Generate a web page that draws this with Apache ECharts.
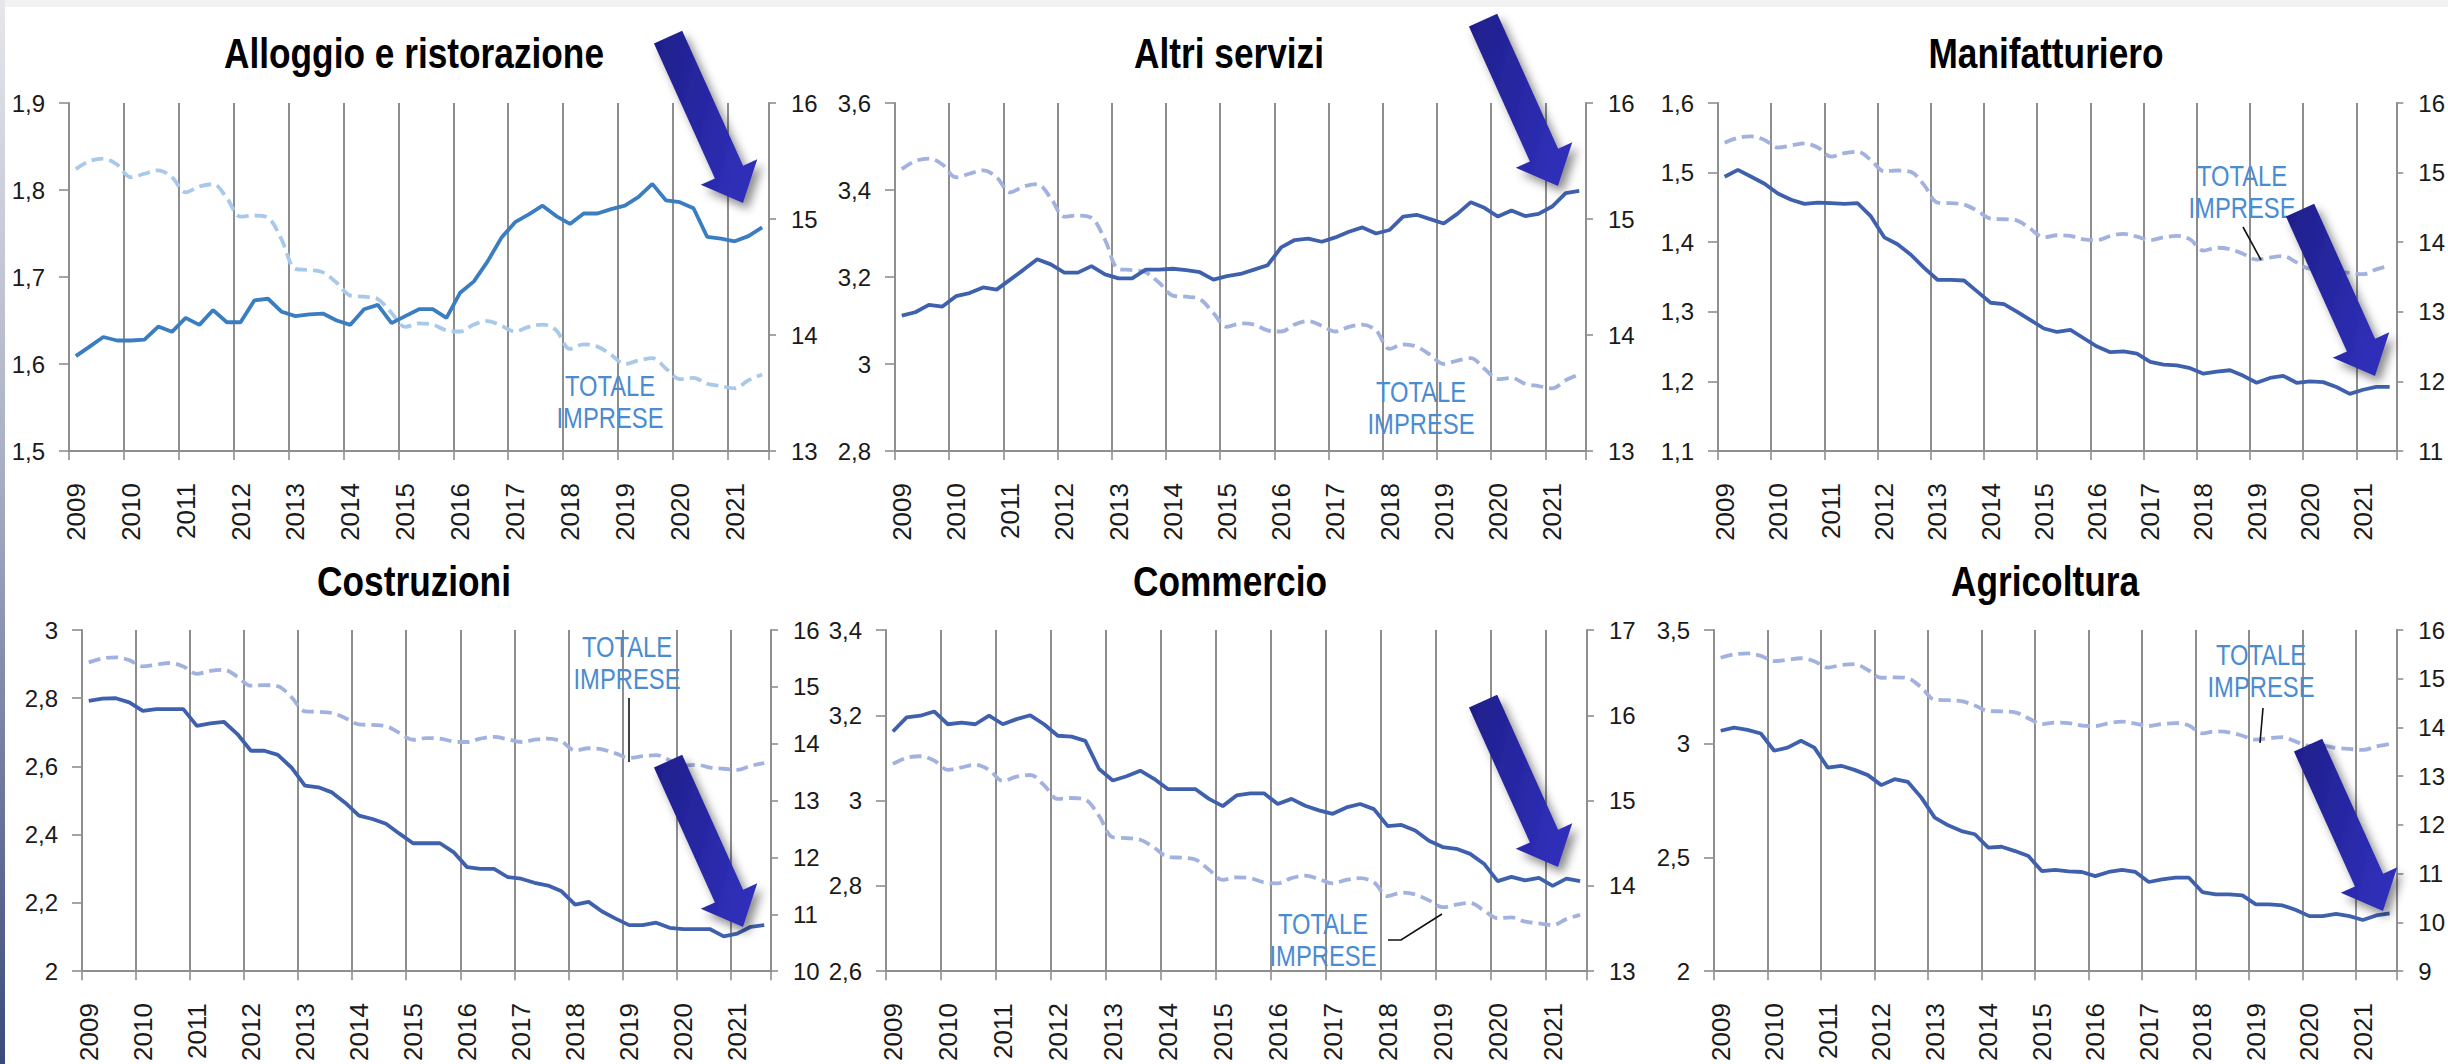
<!DOCTYPE html>
<html>
<head>
<meta charset="utf-8">
<title>Numero di imprese per settore, 2009-2021</title>
<script src="https://cdn.jsdelivr.net/npm/echarts@6/dist/echarts.min.js"></script>
<style>
  html, body { margin: 0; padding: 0; background: #ffffff; }
  #chart { width: 2448px; height: 1064px; }
</style>
</head>
<body>
<div id="chart"></div>
<script>
// ---- Data -----------------------------------------------------------------
// Quarterly series, 2009 T1 – 2021 T3 (51 quarters).
const years = ['2009', '2010', '2011', '2012', '2013', '2014', '2015',
               '2016', '2017', '2018', '2019', '2020', '2021'];
const quarterNames = ['T1', 'T2', 'T3', 'T4'];
const quarterCount = 51;

// Totale imprese (right axis in every panel)
const totaleImprese = [15.43, 15.50, 15.52, 15.47, 15.36, 15.39, 15.42, 15.36, 15.23, 15.28,
  15.30, 15.18, 15.02, 15.03, 15.01, 14.82, 14.57, 14.56, 14.54, 14.45,
  14.34, 14.33, 14.31, 14.19, 14.07, 14.10, 14.09, 14.04, 14.03, 14.09,
  14.12, 14.08, 14.03, 14.07, 14.09, 14.04, 13.88, 13.92, 13.90, 13.83,
  13.75, 13.78, 13.80, 13.71, 13.62, 13.63, 13.58, 13.56, 13.54, 13.61, 13.66];

const alloggioRistorazione = [1.609, 1.620, 1.631, 1.627, 1.627, 1.628, 1.643, 1.637, 1.653, 1.645,
  1.662, 1.648, 1.648, 1.673, 1.675, 1.660, 1.655, 1.657, 1.658, 1.650,
  1.645, 1.663, 1.668, 1.647, 1.655, 1.663, 1.663, 1.653, 1.682, 1.695,
  1.718, 1.745, 1.763, 1.772, 1.782, 1.770, 1.761, 1.773, 1.773, 1.778,
  1.782, 1.792, 1.807, 1.788, 1.786, 1.779, 1.746, 1.744, 1.741, 1.747, 1.757];

const altriServizi = [3.111, 3.119, 3.136, 3.132, 3.156, 3.163, 3.176, 3.171, 3.194, 3.217,
  3.241, 3.229, 3.210, 3.210, 3.225, 3.206, 3.197, 3.197, 3.217, 3.217,
  3.219, 3.216, 3.211, 3.194, 3.202, 3.207, 3.217, 3.227, 3.268, 3.285,
  3.288, 3.281, 3.291, 3.304, 3.314, 3.300, 3.308, 3.339, 3.343, 3.333,
  3.323, 3.345, 3.372, 3.359, 3.339, 3.353, 3.340, 3.345, 3.362, 3.393, 3.398];

const manifatturiero = [1.494, 1.504, 1.494, 1.484, 1.470, 1.461, 1.455, 1.457, 1.456, 1.455,
  1.456, 1.437, 1.407, 1.397, 1.382, 1.363, 1.346, 1.346, 1.345, 1.329,
  1.313, 1.311, 1.300, 1.288, 1.276, 1.271, 1.274, 1.262, 1.250, 1.242,
  1.243, 1.240, 1.228, 1.224, 1.223, 1.219, 1.211, 1.214, 1.216, 1.208,
  1.198, 1.205, 1.208, 1.198, 1.200, 1.199, 1.192, 1.182, 1.188, 1.192, 1.192];

const costruzioni = [2.792, 2.799, 2.800, 2.788, 2.763, 2.768, 2.768, 2.768, 2.719, 2.726,
  2.731, 2.695, 2.646, 2.646, 2.634, 2.597, 2.544, 2.539, 2.524, 2.493,
  2.456, 2.446, 2.432, 2.403, 2.375, 2.375, 2.375, 2.349, 2.305, 2.300,
  2.300, 2.276, 2.271, 2.259, 2.251, 2.234, 2.195, 2.203, 2.175, 2.154,
  2.135, 2.135, 2.142, 2.127, 2.123, 2.123, 2.123, 2.102, 2.110, 2.130, 2.135];

const commercio = [3.162, 3.195, 3.199, 3.209, 3.179, 3.183, 3.179, 3.199, 3.179, 3.191,
  3.200, 3.179, 3.152, 3.150, 3.140, 3.074, 3.047, 3.057, 3.070, 3.051,
  3.027, 3.027, 3.027, 3.004, 2.987, 3.012, 3.017, 3.017, 2.992, 3.004,
  2.988, 2.977, 2.969, 2.984, 2.992, 2.980, 2.940, 2.943, 2.930, 2.906,
  2.891, 2.887, 2.875, 2.852, 2.811, 2.821, 2.813, 2.819, 2.800, 2.817, 2.811];

const agricoltura = [3.057, 3.071, 3.061, 3.045, 2.969, 2.983, 3.013, 2.983, 2.895, 2.903,
  2.885, 2.862, 2.818, 2.844, 2.832, 2.763, 2.675, 2.641, 2.616, 2.602,
  2.543, 2.547, 2.528, 2.506, 2.440, 2.445, 2.439, 2.436, 2.418, 2.436,
  2.445, 2.436, 2.392, 2.404, 2.411, 2.411, 2.348, 2.338, 2.338, 2.333,
  2.294, 2.294, 2.289, 2.269, 2.242, 2.242, 2.252, 2.242, 2.225, 2.245, 2.254];

// Axis scales: [min, max, interval]
const scaleAlloggio = [1.5, 1.9, 0.1];
const scaleAltri = [2.8, 3.6, 0.2];
const scaleManif = [1.1, 1.6, 0.1];
const scaleCostr = [2.0, 3.0, 0.2];
const scaleComm = [2.6, 3.4, 0.2];
const scaleAgri = [2.0, 3.5, 0.5];
const scaleTotA = [13, 16, 1];
const scaleTotManif = [11, 16, 1];
const scaleTotCostr = [10, 16, 1];
const scaleTotComm = [13, 17, 1];
const scaleTotAgri = [9, 16, 1];

const noteText = 'TOTALE\nIMPRESE';

// ---- Layout & styles --------------------------------------------------------
const categories = years
  .flatMap(y => quarterNames.map(q => y + ' ' + q))
  .slice(0, quarterCount);

const SANS = "'Liberation Sans', Arial, sans-serif";
const NARROW_SCALE = 0.82;   // Arial-Narrow-like width for titles and notes

const blueA = { solid: '#3a7dc1', dashed: '#a9c9ea' };
const blueB = { solid: '#3f61ad', dashed: '#a2b2df' };

const panels = [
  { title: 'Alloggio e ristorazione', data: alloggioRistorazione, left: scaleAlloggio, right: scaleTotA,
    grid: { left: 69, top: 103, width: 700, height: 348 }, titlePos: [414, 53], colors: blueA,
    note: [610, 402], leader: null, arrowTip: [743, 203] },
  { title: 'Altri servizi', data: altriServizi, left: scaleAltri, right: scaleTotA,
    grid: { left: 895, top: 103, width: 691, height: 348 }, titlePos: [1229, 53], colors: blueB,
    note: [1421, 408], leader: null, arrowTip: [1558, 186] },
  { title: 'Manifatturiero', data: manifatturiero, left: scaleManif, right: scaleTotManif,
    grid: { left: 1718, top: 103, width: 685, height: 348 }, titlePos: [2046, 53], colors: blueB,
    note: [2242, 192], leader: [[2243, 227], [2261, 260]], arrowTip: [2375, 376] },
  { title: 'Costruzioni', data: costruzioni, left: scaleCostr, right: scaleTotCostr,
    grid: { left: 82, top: 630, width: 689, height: 349 }, titlePos: [414, 581], colors: blueB,
    note: [627, 663], leader: [[629, 698], [629, 762]], arrowTip: [743, 927] },
  { title: 'Commercio', data: commercio, left: scaleComm, right: scaleTotComm,
    grid: { left: 886, top: 630, width: 701, height: 349 }, titlePos: [1230, 581], colors: blueB,
    note: [1323, 940], leader: [[1388, 940], [1401, 940], [1442, 914]], arrowTip: [1558, 867] },
  { title: 'Agricoltura', data: agricoltura, left: scaleAgri, right: scaleTotAgri,
    grid: { left: 1714, top: 630, width: 689, height: 349 }, titlePos: [2045, 581], colors: blueB,
    note: [2261, 671], leader: [[2263, 708], [2260, 743]], arrowTip: [2383, 911] }
];

const axisGrey = '#8f8f8f';
const gridGrey = '#7a7a7a';
const fmtComma = v => String(+v.toFixed(2)).replace('.', ',');

const grid = [], xAxis = [], yAxis = [], series = [], graphic = [];

panels.forEach((p, i) => {
  grid.push(Object.assign({ containLabel: false }, p.grid));

  xAxis.push({
    type: 'category', gridIndex: i, data: categories, boundaryGap: true,
    axisLine: { show: true, lineStyle: { color: axisGrey, width: 2 } },
    axisTick: { show: true, interval: 3, length: 9, lineStyle: { color: axisGrey, width: 1.6 } },
    axisLabel: {
      interval: 3, rotate: 90, margin: 32, fontSize: 26, fontFamily: SANS, color: '#1a1a1a',
      formatter: v => v.slice(0, 4)
    },
    splitLine: { show: true, interval: 3, lineStyle: { color: gridGrey, width: 1.7 } }
  });

  yAxis.push({
    type: 'value', gridIndex: i, position: 'left',
    min: p.left[0], max: p.left[1], interval: p.left[2],
    axisLine: { show: true, lineStyle: { color: axisGrey, width: 2 } },
    axisTick: { show: true, length: 10, lineStyle: { color: axisGrey, width: 1.6 } },
    axisLabel: { margin: 24, fontSize: 24, fontFamily: SANS, color: '#1a1a1a', formatter: fmtComma },
    splitLine: { show: false }
  });
  yAxis.push({
    type: 'value', gridIndex: i, position: 'right',
    min: p.right[0], max: p.right[1], interval: p.right[2],
    axisLine: { show: true, lineStyle: { color: axisGrey, width: 2 } },
    axisTick: { show: true, length: 7, lineStyle: { color: axisGrey, width: 1.6 } },
    axisLabel: { margin: 22, fontSize: 24, fontFamily: SANS, color: '#1a1a1a', formatter: fmtComma },
    splitLine: { show: false }
  });

  series.push({
    name: 'Totale imprese', type: 'line', xAxisIndex: i, yAxisIndex: 2 * i + 1,
    data: totaleImprese, smooth: 0.35, symbol: 'none', z: 2,
    lineStyle: { color: p.colors.dashed, width: 3.8, type: [12, 6] }
  });
  series.push({
    name: p.title, type: 'line', xAxisIndex: i, yAxisIndex: 2 * i,
    data: p.data, symbol: 'none', z: 3,
    lineStyle: { color: p.colors.solid, width: 3.8 }
  });

  // Panel title
  graphic.push({
    type: 'text', x: p.titlePos[0], y: p.titlePos[1], scaleX: NARROW_SCALE, z: 10,
    style: {
      text: p.title, fill: '#000000', fontSize: 43, fontWeight: 'bold', fontFamily: SANS,
      align: 'center', verticalAlign: 'middle'
    }
  });

  // "TOTALE IMPRESE" note and its leader line
  graphic.push({
    type: 'text', x: p.note[0], y: p.note[1], scaleX: NARROW_SCALE, z: 10,
    style: {
      text: noteText, fill: '#4a8bd1', fontSize: 29, fontFamily: SANS, lineHeight: 32,
      align: 'center', verticalAlign: 'middle'
    }
  });
  if (p.leader) {
    graphic.push({
      type: 'polyline', z: 10,
      shape: { points: p.leader },
      style: { stroke: '#111111', lineWidth: 1.6, fill: null }
    });
  }
});

// Highlight arrows pointing at the latest quarter
function arrowPoints(tip) {
  const dx = 75, dy = 166, len = Math.hypot(dx, dy);
  const ux = dx / len, uy = dy / len;          // along the arrow
  const nx = uy, ny = -ux;                     // across the arrow
  const total = 182, headLen = 34, shaftHalf = 15.5, headHalf = 31;
  const cx = tip[0] - ux * total, cy = tip[1] - uy * total;
  const bx = tip[0] - ux * headLen, by = tip[1] - uy * headLen;
  return [
    [cx + nx * shaftHalf, cy + ny * shaftHalf],
    [bx + nx * shaftHalf, by + ny * shaftHalf],
    [bx + nx * headHalf, by + ny * headHalf],
    [tip[0], tip[1]],
    [bx - nx * headHalf, by - ny * headHalf],
    [bx - nx * shaftHalf, by - ny * shaftHalf],
    [cx - nx * shaftHalf, cy - ny * shaftHalf]
  ];
}

panels.forEach(p => {
  graphic.push({
    type: 'polygon', z: 20,
    shape: { points: arrowPoints(p.arrowTip) },
    style: {
      fill: {
        type: 'linear', x: 0, y: 0, x2: 1, y2: 0.4,
        colorStops: [{ offset: 0, color: '#1e1e8a' }, { offset: 1, color: '#2f2fb8' }]
      },
      shadowBlur: 10, shadowOffsetX: 5, shadowOffsetY: 6, shadowColor: 'rgba(0,0,0,0.45)'
    }
  });
});

// Slide frame: thin grey band on top, shaded band on the left edge
graphic.push({
  type: 'rect', z: 0, shape: { x: 0, y: 0, width: 2448, height: 7 },
  style: { fill: '#f2f2f2' }
});
graphic.push({
  type: 'rect', z: 0, shape: { x: 0, y: 0, width: 5, height: 1064 },
  style: {
    fill: {
      type: 'linear', x: 0, y: 0, x2: 0, y2: 1,
      colorStops: [{ offset: 0, color: '#e6e7ec' }, { offset: 0.45, color: '#a7adc2' },
                   { offset: 1, color: '#3a4a7c' }]
    }
  }
});

const chart = echarts.init(document.getElementById('chart'), null, { renderer: 'svg' });
chart.setOption({
  backgroundColor: '#ffffff',
  animation: false,
  grid, xAxis, yAxis, series, graphic
});
</script>
</body>
</html>
